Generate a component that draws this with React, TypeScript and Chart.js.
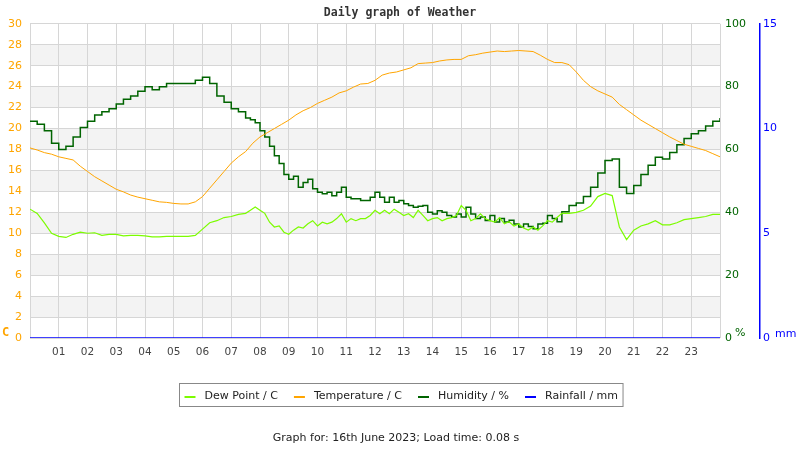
import React, { useRef, useEffect } from 'react';
import { Chart, registerables, Plugin } from 'chart.js';

Chart.register(...registerables);

// temperature readings every 15 minutes, hours since midnight
const tempHours = [
  0, 0.25, 0.5, 0.75, 1, 1.25, 1.5, 1.75, 2, 2.25, 2.5, 2.75, 3, 3.25, 3.5, 3.75,
  4, 4.25, 4.5, 4.75, 5, 5.25, 5.5, 5.75, 6, 6.25, 6.5, 6.75, 7, 7.25, 7.5, 7.75,
  8, 8.25, 8.5, 8.75, 9, 9.25, 9.5, 9.75, 10, 10.25, 10.5, 10.75, 11, 11.25, 11.5, 11.75,
  12, 12.25, 12.5, 12.75, 13, 13.25, 13.5, 13.75, 14, 14.25, 14.5, 14.75, 15, 15.25, 15.5, 15.75,
  16, 16.25, 16.5, 16.75, 17, 17.25, 17.5, 17.75, 18, 18.25, 18.5, 18.75, 19, 19.25, 19.5, 19.75,
  20, 20.25, 20.5, 20.75, 21, 21.25, 21.5, 21.75, 22, 22.25, 22.5, 22.75, 23, 23.25, 23.5, 23.75,
  24,
];

const temperature = [
  18.15, 17.95, 17.7, 17.55, 17.3, 17.15, 17.0, 16.4, 15.9, 15.4, 15.0, 14.6, 14.2, 13.95, 13.65, 13.45,
  13.3, 13.15, 13.0, 12.95, 12.85, 12.8, 12.8, 13.0, 13.5, 14.3, 15.1, 15.9, 16.7, 17.3, 17.8, 18.6,
  19.2, 19.6, 20.0, 20.4, 20.8, 21.3, 21.7, 22.0, 22.4, 22.7, 23.0, 23.4, 23.6, 23.95, 24.25, 24.3,
  24.6, 25.1, 25.3, 25.4, 25.6, 25.8, 26.2, 26.25, 26.3, 26.45, 26.55, 26.6, 26.6, 26.95, 27.05, 27.2,
  27.3, 27.4, 27.35, 27.4, 27.45, 27.4, 27.35, 27.0, 26.6, 26.3, 26.3, 26.1, 25.4, 24.6, 24.0, 23.6,
  23.3, 23.0, 22.3, 21.8, 21.3, 20.8, 20.4, 20.0, 19.6, 19.2, 18.85, 18.5, 18.3, 18.1, 17.9, 17.6,
  17.3,
];

// humidity / dew point readings, minutes since midnight (denser where the readings are noisy)
const obsMinutes = [
  0, 15, 30, 45, 60, 75, 90, 105, 120, 135, 150, 165, 180, 195, 210, 225,
  240, 255, 270, 285, 300, 315, 330, 345, 360, 375, 390, 405, 420, 435, 450,
  460, 470, 480, 490, 500, 510, 520, 530, 540, 550,
  560, 570, 580, 590, 600, 610, 620, 630, 640, 650,
  660, 670, 680, 690, 700, 710, 720, 730, 740, 750,
  760, 770, 780, 790, 800, 810, 820, 830, 840, 850,
  860, 870, 880, 890, 900, 910, 920, 930, 940, 950,
  960, 970, 980, 990, 1000, 1010, 1020, 1030, 1040, 1050,
  1060, 1070, 1080, 1090, 1100, 1110,
  1125, 1140, 1155, 1170, 1185, 1200, 1215, 1230, 1245, 1260, 1275,
  1290, 1305, 1320, 1335, 1350, 1365, 1380, 1395, 1410, 1425, 1440,
];

const humidity = [
  69, 68, 66, 62, 60, 61, 64, 67, 69, 71, 72, 73, 74.5, 76, 77, 78.5,
  80, 79, 80, 81, 81, 81, 81, 82, 83, 81, 77, 75, 73, 72, 70,
  69.5, 68.5, 66, 64, 61, 58, 55.5, 52, 50.5, 51.5,
  48, 49.5, 50.5, 47.5, 46.4, 45.9, 46.4, 45.3, 46.4, 48,
  44.8, 44.3, 44.3, 43.8, 43.8, 44.8, 46.4, 44.8, 43.2, 44.8,
  43.2, 43.8, 42.7, 42.2, 41.6, 41.9, 42.2, 40, 39.5, 40.5,
  40, 39, 38.5, 39.5, 38.5, 41.6, 39.5, 38, 38.5, 37.4,
  39, 36.9, 38, 36.9, 37.5, 36.3, 35.3, 36.3, 35.5, 34.8,
  36.3, 36.5, 39, 38, 37, 40.2,
  42.2, 43, 45, 48, 52.5, 56.5, 57, 48, 46, 48.5, 52,
  55, 57.5, 57, 59, 61.5, 63.5, 65, 66, 67.5, 69, 70,
];

const dewPoint = [
  12.3, 11.9, 11.0, 10.0, 9.7, 9.6, 9.9, 10.1, 10.0, 10.05, 9.8, 9.9, 9.9, 9.75, 9.8, 9.8,
  9.75, 9.65, 9.65, 9.7, 9.7, 9.7, 9.7, 9.8, 10.4, 11.0, 11.2, 11.5, 11.6, 11.8, 11.9,
  12.2, 12.5, 12.2, 11.9, 11.06, 10.6, 10.7, 10.1, 9.9, 10.3,
  10.6, 10.5, 10.9, 11.2, 10.7, 11.06, 10.9, 11.06, 11.4, 11.86,
  11.06, 11.4, 11.2, 11.4, 11.4, 11.7, 12.2, 11.86, 12.2, 11.86,
  12.3, 12.0, 11.7, 11.86, 11.5, 12.2, 11.7, 11.2, 11.4, 11.5,
  11.2, 11.4, 11.5, 11.7, 12.65, 12.2, 11.2, 11.4, 11.86, 11.4,
  11.2, 11.06, 11.5, 10.9, 11.1, 10.7, 10.9, 10.5, 10.3, 10.6,
  10.3, 10.7, 11.2, 11.06, 11.5, 11.9,
  11.9, 12.0, 12.2, 12.6, 13.5, 13.8, 13.6, 10.6, 9.4, 10.3, 10.7,
  10.9, 11.2, 10.8, 10.8, 11.0, 11.3, 11.4, 11.5, 11.6, 11.8, 11.8,
];

const rainHours = [0, 24];
const rainfall = [0, 0];

const hourLabels = [
  '', '01', '02', '03', '04', '05', '06', '07', '08', '09', '10', '11', '12',
  '13', '14', '15', '16', '17', '18', '19', '20', '21', '22', '23', '',
];

const seriesNames = ['Dew Point / C', 'Temperature / C', 'Humidity / %', 'Rainfall / mm'];
const seriesColors = ['#7cfc00', '#ffa500', '#006400', '#0000ff'];

const footerText = 'Graph for: 16th June 2023; Load time: 0.08 s';

const FONT = '"DejaVu Sans", sans-serif';

// alternating grey bands behind the grid
const bandsPlugin: Plugin = {
  id: 'bands',
  beforeDraw(chart) {
    const { ctx, chartArea: a } = chart;
    const y = chart.scales.y;
    ctx.save();
    ctx.fillStyle = '#f3f3f3';
    for (let v = 2; v < 30; v += 4) {
      const top = y.getPixelForValue(v + 2);
      const bottom = y.getPixelForValue(v);
      ctx.fillRect(a.left, top, a.right - a.left, bottom - top);
    }
    ctx.restore();
  },
};

// unit labels, boxed legend and footer line
const extrasPlugin: Plugin = {
  id: 'extras',
  afterDraw(chart) {
    const { ctx, chartArea: a } = chart;
    const yH = chart.scales.yH;
    const yR = chart.scales.yR;
    ctx.save();
    ctx.textBaseline = 'middle';
    ctx.textAlign = 'left';
    ctx.font = 'bold 12px "DejaVu Sans Mono", monospace';
    ctx.fillStyle = '#ffa500';
    ctx.fillText('C', 2, a.bottom - 5);
    ctx.font = '11px ' + FONT;
    ctx.fillStyle = '#006400';
    ctx.fillText('%', yH.left + 15, a.bottom - 5);
    ctx.fillStyle = '#0000ff';
    ctx.fillText('mm', yR.left + 15, a.bottom - 4);

    // legend
    ctx.font = '11px ' + FONT;
    const sw = 11, gapIn = 9, gapOut = 16, pad = 5;
    const widths = seriesNames.map((n) => ctx.measureText(n).width);
    let total = pad * 2;
    widths.forEach((w, i) => {
      total += sw + gapIn + w + (i < widths.length - 1 ? gapOut : 0);
    });
    const cx = 400.5;
    const left = Math.round(cx - total / 2) + 0.5;
    const top = 383.5;
    const h = 23;
    ctx.strokeStyle = '#888888';
    ctx.lineWidth = 1;
    ctx.strokeRect(left, top, total, h);
    let x = left + pad;
    const my = top + h / 2 + 1;
    seriesNames.forEach((n, i) => {
      ctx.strokeStyle = seriesColors[i];
      ctx.lineWidth = 2;
      ctx.beginPath();
      ctx.moveTo(x, my + 1);
      ctx.lineTo(x + sw, my + 1);
      ctx.stroke();
      x += sw + gapIn;
      ctx.fillStyle = '#222222';
      ctx.fillText(n, x, my);
      x += widths[i] + gapOut;
    });

    ctx.textAlign = 'center';
    ctx.fillStyle = '#222222';
    ctx.fillText(footerText, 396, 438);
    ctx.restore();
  },
};

const WeatherChart: React.FC = () => {
  const canvasRef = useRef<HTMLCanvasElement>(null);
  const chartRef = useRef<Chart | null>(null);

  useEffect(() => {
    if (!canvasRef.current) return;
    const ctx = canvasRef.current.getContext('2d');
    if (!ctx) return;
    if (chartRef.current) chartRef.current.destroy();

    const toPoints = (xs: number[], ys: number[]) => xs.map((x, i) => ({ x, y: ys[i] }));
    const obsHours = obsMinutes.map((m) => m / 60);

    chartRef.current = new Chart(ctx, {
      type: 'line',
      data: {
        datasets: [
          {
            label: seriesNames[0],
            data: toPoints(obsHours, dewPoint),
            borderColor: seriesColors[0],
            borderWidth: 1.2,
            pointRadius: 0,
            yAxisID: 'y',
          },
          {
            label: seriesNames[1],
            data: toPoints(tempHours, temperature),
            borderColor: seriesColors[1],
            borderWidth: 1,
            pointRadius: 0,
            yAxisID: 'y',
          },
          {
            label: seriesNames[2],
            data: toPoints(obsHours, humidity),
            borderColor: seriesColors[2],
            borderWidth: 1.5,
            pointRadius: 0,
            stepped: true,
            yAxisID: 'yH',
          },
          {
            label: seriesNames[3],
            data: toPoints(rainHours, rainfall),
            borderColor: seriesColors[3],
            borderWidth: 1.5,
            pointRadius: 0,
            yAxisID: 'yR',
          },
        ],
      },
      options: {
        animation: false,
        responsive: false,
        events: [],
        layout: { padding: { top: 0, bottom: 82, left: 0, right: 0 } },
        plugins: {
          legend: { display: false },
          tooltip: { enabled: false },
          title: {
            display: true,
            text: 'Daily graph of Weather',
            color: '#333333',
            font: { family: '"DejaVu Sans Mono", monospace', size: 11.5, weight: 'bold' },
            padding: { top: 6, bottom: 4 },
          },
        },
        scales: {
          x: {
            type: 'linear',
            min: 0,
            max: 24,
            afterFit: (s: any) => { s.height = 30; },
            ticks: {
              stepSize: 1,
              autoSkip: false,
              maxRotation: 0,
              padding: 8,
              color: '#444444',
              font: { family: FONT, size: 10.5 },
              callback: (v: any) => hourLabels[Number(v)] ?? '',
            },
            grid: { color: '#d6d6d6', drawTicks: false },
            border: { display: false },
          },
          y: {
            position: 'left',
            min: 0,
            max: 30,
            afterFit: (s: any) => { s.width = 30; },
            ticks: {
              stepSize: 2,
              padding: 8,
              color: '#ffa500',
              font: { family: FONT, size: 11 },
            },
            grid: { color: '#d6d6d6', drawTicks: false },
            border: { display: false },
          },
          yH: {
            position: 'right',
            min: 0,
            max: 100,
            afterFit: (s: any) => { s.width = 40; },
            ticks: {
              stepSize: 20,
              padding: 5,
              color: '#006400',
              font: { family: FONT, size: 11 },
            },
            grid: { display: false, drawTicks: false },
            border: { display: false },
          },
          yR: {
            position: 'right',
            min: 0,
            max: 15,
            afterFit: (s: any) => { s.width = 40; },
            ticks: {
              stepSize: 5,
              padding: 3,
              color: '#0000ff',
              font: { family: FONT, size: 11 },
            },
            grid: { display: false, drawTicks: false },
            border: { display: true, color: '#0000ff', width: 1.5 },
          },
        },
      },
      plugins: [bandsPlugin, extrasPlugin],
    });

    return () => {
      if (chartRef.current) {
        chartRef.current.destroy();
        chartRef.current = null;
      }
    };
  }, []);

  return (
    <div style={{ position: 'absolute', left: 0, top: 0, width: 800, height: 450, background: '#fff' }}>
      <canvas ref={canvasRef} width={800} height={450} style={{ display: 'block' }} />
    </div>
  );
};

export default function App() {
  return <WeatherChart />;
}
